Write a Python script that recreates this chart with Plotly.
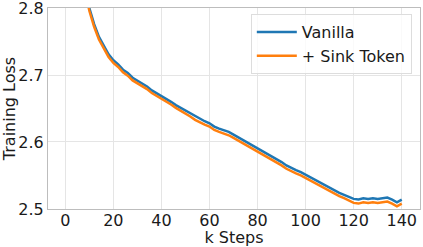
import plotly.graph_objects as go

k_steps = list(range(0, 142, 2))

vanilla = [3.40, 3.12, 2.98, 2.90, 2.835, 2.800, 2.776, 2.757, 2.743, 2.731,
           2.722, 2.716, 2.708, 2.703, 2.696, 2.692, 2.687, 2.683, 2.677, 2.673,
           2.669, 2.665, 2.660, 2.655, 2.651, 2.647, 2.643, 2.638, 2.634, 2.631,
           2.628, 2.623, 2.620, 2.618, 2.615, 2.611, 2.607, 2.603, 2.599, 2.595,
           2.591, 2.587, 2.583, 2.578, 2.574, 2.570, 2.565, 2.561, 2.558, 2.555,
           2.551, 2.547, 2.544, 2.540, 2.535, 2.531, 2.528, 2.524, 2.521, 2.518,
           2.515, 2.514, 2.516, 2.515, 2.516, 2.515, 2.516, 2.517, 2.514, 2.510,
           2.514]

sink_token = [3.39, 3.11, 2.975, 2.895, 2.831, 2.796, 2.772, 2.753, 2.739, 2.727,
              2.718, 2.712, 2.704, 2.699, 2.692, 2.688, 2.683, 2.679, 2.673, 2.669,
              2.665, 2.661, 2.656, 2.651, 2.647, 2.643, 2.638, 2.633, 2.629, 2.626,
              2.623, 2.618, 2.615, 2.613, 2.610, 2.606, 2.602, 2.598, 2.594, 2.590,
              2.586, 2.582, 2.578, 2.573, 2.569, 2.565, 2.560, 2.556, 2.553, 2.550,
              2.546, 2.542, 2.539, 2.535, 2.530, 2.526, 2.523, 2.519, 2.516, 2.512,
              2.509, 2.508, 2.510, 2.509, 2.510, 2.509, 2.510, 2.511, 2.508, 2.504,
              2.508]

x_ticks = [0, 20, 40, 60, 80, 100, 120, 140]
y_ticks = [2.5, 2.6, 2.7, 2.8]
y_ticktext = ["2.5", "2.6", "2.7", "2.8"]

FONT = "DejaVu Sans"
FS = 16

fig = go.Figure()
fig.add_trace(go.Scatter(x=k_steps, y=vanilla, mode="lines", name="Vanilla",
                         line=dict(color="#1f77b4", width=2.5)))
fig.add_trace(go.Scatter(x=k_steps, y=sink_token, mode="lines", name="+ Sink Token",
                         line=dict(color="#ff7f0e", width=2.5)))

axis_common = dict(
    showgrid=True, gridcolor="#e5e5e5", gridwidth=1,
    showline=True, linecolor="#bdbdbd", linewidth=1, mirror=True,
    ticks="", zeroline=False, ticklabeloverflow="allow", automargin=False,
    tickfont=dict(family=FONT, size=FS, color="#1a1a1a"),
)

fig.update_xaxes(range=[-7.2, 147.6], tickvals=x_ticks, ticklabelstandoff=-3,
                 title=dict(text="k Steps", font=dict(family=FONT, size=FS, color="#1a1a1a"), standoff=4),
                 **axis_common)
fig.update_yaxes(range=[2.4999, 2.8001], tickvals=y_ticks, ticktext=y_ticktext,
                 title=dict(text="Training Loss", font=dict(family=FONT, size=FS, color="#1a1a1a"), standoff=0),
                 **axis_common)

fig.update_layout(
    width=423, height=247,
    margin=dict(l=48, r=3, t=8, b=38),
    plot_bgcolor="white", paper_bgcolor="white",
    font=dict(family=FONT, size=FS, color="#1a1a1a"),
    legend=dict(x=0.978, y=0.97, xanchor="right", yanchor="top",
                bgcolor="rgba(255,255,255,0.8)", bordercolor="#dddddd", borderwidth=1,
                itemwidth=40, tracegroupgap=0,
                font=dict(family=FONT, size=FS, color="#1a1a1a")),
)

fig.write_html("out.html")
